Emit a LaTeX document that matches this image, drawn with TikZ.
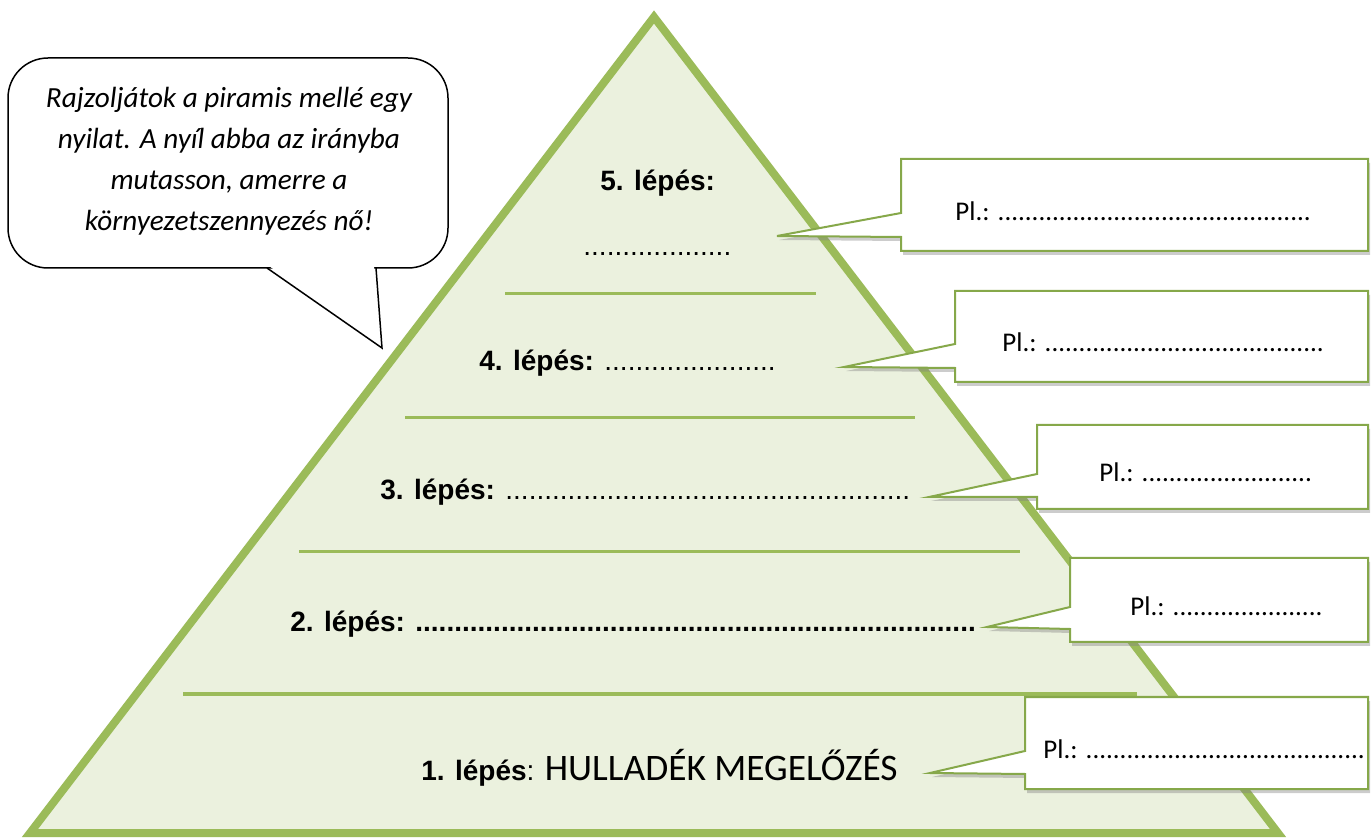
\documentclass[tikz,border=0pt]{standalone}
\usepackage{fontspec}
\setmainfont{Carlito}
\newfontfamily\arial{Liberation Sans}
\usetikzlibrary{shadows}
\definecolor{pyrgreen}{HTML}{9BBB59}
\definecolor{pyrfill}{HTML}{EBF1DE}
\definecolor{boxgreen}{HTML}{86A84A}
\newcommand\blank[1]{\hbox to #1{\leaders\hbox{.}\hfill}}

\begin{document}
\begin{tikzpicture}[x=0.5pt,y=-0.5pt]
  \tikzstyle{szint}=[draw=pyrgreen,line width=1.5pt]
  \tikzstyle{lepes}=[anchor=base west,inner sep=0pt,font=\arial\fontsize{14}{16}\selectfont]
  \tikzstyle{pelda}=[anchor=base west,inner sep=0pt,font=\fontsize{13.5}{16}\selectfont]
  \tikzstyle{callout}=[draw=boxgreen,line width=1pt,fill=white,drop shadow={shadow xshift=1pt,shadow yshift=-2pt,opacity=0.4}]
  \useasboundingbox (0,0) rectangle (1372,839);

  % piramis
  \draw[pyrgreen,fill=pyrfill,line width=4pt] (654,17) -- (1278,833) -- (30,833) -- cycle;
  \draw[szint] (505,294) -- (816,294);
  \draw[szint] (405,418) -- (915,418);
  \draw[szint] (299,552) -- (1020,552);
  \draw[szint] (183,694) -- (1137,694);

  \node[lepes] (s5) at (600,191) {\bfseries 5. lépés:};
  \node[lepes] (s5p) at (583,256) {\blank{75pt}};
  \node[lepes] (s4) at (479,371) {\textbf{4. lépés:} \blank{88pt}};
  \node[lepes] (s3) at (380,500) {\textbf{3. lépés:} \blank{206pt}};
  \node[lepes] (s2) at (290,632) {\bfseries 2. lépés: \blank{281pt}};
  \node[lepes] (s1) at (421,780) {\textbf{1. lépés}: {\normalfont\fontsize{18.7}{21}\selectfont HULLADÉK MEGELŐZÉS}};

  % peldak
  \path[callout] (901,159) -- (1368,159) -- (1368,251) -- (901,251) -- (901,237) -- (777,236) -- (901,213) -- cycle;
  \path[callout] (955,291) -- (1368,291) -- (1368,382) -- (955,382) -- (955,368) -- (844,367) -- (955,344) -- cycle;
  \path[callout] (1037,425) -- (1368,425) -- (1368,509) -- (1037,509) -- (1037,497) -- (929,497) -- (1037,474) -- cycle;
  \path[callout] (1070,558) -- (1368,558) -- (1368,642) -- (1070,642) -- (1070,629) -- (987,627) -- (1070,607) -- cycle;
  \path[callout] (1025,697) -- (1368,697) -- (1368,789) -- (1025,789) -- (1025,774) -- (930,773) -- (1025,751) -- cycle;

  \node[pelda] (p5) at (955,221) {Pl.: \blank{160pt}};
  \node[pelda] (p4) at (1002,352) {Pl.: \blank{140pt}};
  \node[pelda] (p3) at (1099,482) {Pl.: \blank{86pt}};
  \node[pelda] (p2) at (1130,616) {Pl.: \blank{76pt}};
  \node[pelda] (p1) at (1043,758) {Pl.: \blank{140pt}};

  % buborek
  \draw[line width=0.75pt,rounded corners=20pt,fill=white] (8,58) rectangle (448,268);
  \fill[white] (269,266) -- (381,346) -- (374,266) -- cycle;
  \draw[line width=0.75pt] (267,268) -- (382,348) -- (376,268);
  \node[align=center,font=\itshape\fontsize{14.6}{20.5}\selectfont] (utasitas) at (229,161)
    {Rajzoljátok a piramis mellé egy\\ nyilat. A nyíl abba az irányba\\ mutasson, amerre a\\ környezetszennyezés nő!};
\end{tikzpicture}
\end{document}
